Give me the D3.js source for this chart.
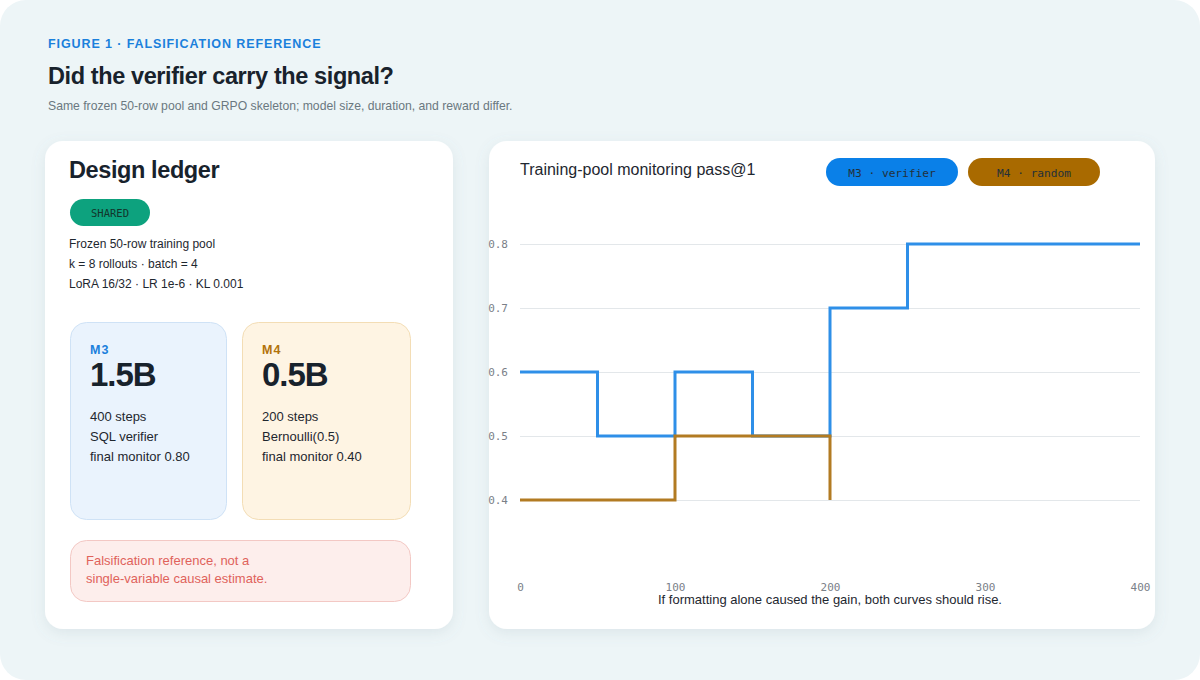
<!DOCTYPE html>
<html>
<head>
<meta charset="utf-8">
<script src="https://cdn.jsdelivr.net/npm/d3@7/dist/d3.min.js"></script>
<style>
  html, body { margin: 0; padding: 0; background: #ffffff; }
  svg { display: block; }
  .sans { font-family: "Liberation Sans", Arial, Helvetica, sans-serif; }
  .mono { font-family: "DejaVu Sans Mono", "Liberation Mono", monospace; }
</style>
</head>
<body>
<div id="chart"></div>
<script>
// eval checkpoints (training step) and monitor pass@1
const m3Steps = [0, 50, 100, 150, 200, 250, 300, 350, 400];
const m3Pass = [0.6, 0.5, 0.6, 0.5, 0.7, 0.8, 0.8, 0.8, 0.8];
const m4Steps = [0, 50, 100, 150, 200];
const m4Pass = [0.4, 0.4, 0.5, 0.5, 0.4];

const xTicks = [0, 100, 200, 300, 400];
const yTicks = [0.4, 0.5, 0.6, 0.7, 0.8];

const seriesNames = ["M3 · verifier", "M4 · random"];
const seriesColors = ["#2e8fe8", "#b27b22"];
const pillColors = ["#0a80e8", "#a96a00"];

const sharedLines = [
  "Frozen 50-row training pool",
  "k = 8 rollouts · batch = 4",
  "LoRA 16/32 · LR 1e-6 · KL 0.001"
];
const models = [
  { tag: "M3", size: "1.5B", lines: ["400 steps", "SQL verifier", "final monitor 0.80"] },
  { tag: "M4", size: "0.5B", lines: ["200 steps", "Bernoulli(0.5)", "final monitor 0.40"] }
];

const W = 1200, H = 680;
const svg = d3.select("#chart").append("svg")
  .attr("width", W)
  .attr("height", H);

const defs = svg.append("defs");
const shadow = defs.append("filter").attr("id", "shadow")
  .attr("x", "-10%").attr("y", "-10%").attr("width", "120%").attr("height", "125%");
shadow.append("feDropShadow")
  .attr("dx", 0).attr("dy", 4).attr("stdDeviation", 7)
  .attr("flood-color", "#6f8c96").attr("flood-opacity", 0.14);

// page background
svg.append("rect")
  .attr("width", W).attr("height", H)
  .attr("rx", 26)
  .attr("fill", "#edf5f7");

// header
svg.append("text").attr("class", "sans")
  .attr("x", 48).attr("y", 48)
  .attr("font-size", 12.5).attr("font-weight", 700)
  .attr("letter-spacing", 0.9)
  .attr("fill", "#1a80dc")
  .text("FIGURE 1 · FALSIFICATION REFERENCE");

svg.append("text").attr("class", "sans")
  .attr("x", 48).attr("y", 84)
  .attr("font-size", 23.5).attr("font-weight", 700)
  .attr("letter-spacing", -0.4)
  .attr("fill", "#18222c")
  .text("Did the verifier carry the signal?");

svg.append("text").attr("class", "sans")
  .attr("x", 48).attr("y", 110)
  .attr("font-size", 12.2)
  .attr("fill", "#6a7880")
  .text("Same frozen 50-row pool and GRPO skeleton; model size, duration, and reward differ.");

// ---------- left card: design ledger ----------
const left = svg.append("g");
left.append("rect")
  .attr("x", 45).attr("y", 141).attr("width", 408).attr("height", 488)
  .attr("rx", 18).attr("fill", "#ffffff")
  .attr("filter", "url(#shadow)");

left.append("text").attr("class", "sans")
  .attr("x", 69).attr("y", 178)
  .attr("font-size", 23.5).attr("font-weight", 700)
  .attr("letter-spacing", -0.4)
  .attr("fill", "#18222c")
  .text("Design ledger");

left.append("rect")
  .attr("x", 70).attr("y", 199).attr("width", 80).attr("height", 27)
  .attr("rx", 13.5).attr("fill", "#0da27e");
left.append("text").attr("class", "mono")
  .attr("x", 110).attr("y", 216.5)
  .attr("text-anchor", "middle")
  .attr("font-size", 10.5)
  .attr("fill", "#12352b")
  .text("SHARED");

left.selectAll("text.shared")
  .data(sharedLines)
  .join("text")
  .attr("class", "sans shared")
  .attr("x", 69)
  .attr("y", (d, i) => 248 + i * 20)
  .attr("font-size", 12)
  .attr("fill", "#1e272f")
  .text(d => d);

const boxX = [70, 242], boxW = [156, 168];
const boxFill = ["#eaf3fd", "#fef4e3"], boxStroke = ["#cfe2f6", "#f3ddb5"];
const tagColor = ["#1a80dc", "#b2720a"];

models.forEach((m, i) => {
  const g = left.append("g");
  g.append("rect")
    .attr("x", boxX[i] + 0.5).attr("y", 322.5)
    .attr("width", boxW[i]).attr("height", 197)
    .attr("rx", 16)
    .attr("fill", boxFill[i]).attr("stroke", boxStroke[i]);
  g.append("text").attr("class", "sans")
    .attr("x", boxX[i] + 20).attr("y", 354)
    .attr("font-size", 12.5).attr("font-weight", 700)
    .attr("letter-spacing", 1)
    .attr("fill", tagColor[i])
    .text(m.tag);
  g.append("text").attr("class", "sans")
    .attr("x", boxX[i] + 20).attr("y", 386)
    .attr("font-size", 33).attr("font-weight", 700)
    .attr("letter-spacing", -1)
    .attr("fill", "#18222c")
    .text(m.size);
  g.selectAll("text.detail")
    .data(m.lines)
    .join("text")
    .attr("class", "sans detail")
    .attr("x", boxX[i] + 20)
    .attr("y", (d, j) => 421 + j * 20)
    .attr("font-size", 13)
    .attr("fill", "#1e272f")
    .text(d => d);
});

left.append("rect")
  .attr("x", 70.5).attr("y", 540.5).attr("width", 340).attr("height", 61)
  .attr("rx", 16)
  .attr("fill", "#fdeeec").attr("stroke", "#f3c8c4");
left.selectAll("text.warn")
  .data(["Falsification reference, not a", "single-variable causal estimate."])
  .join("text")
  .attr("class", "sans warn")
  .attr("x", 86)
  .attr("y", (d, i) => 565 + i * 18)
  .attr("font-size", 13)
  .attr("fill", "#e0625b")
  .text(d => d);

// ---------- right card: chart ----------
const right = svg.append("g");
right.append("rect")
  .attr("x", 489).attr("y", 141).attr("width", 666).attr("height", 488)
  .attr("rx", 18).attr("fill", "#ffffff")
  .attr("filter", "url(#shadow)");

right.append("text").attr("class", "sans")
  .attr("x", 520).attr("y", 175)
  .attr("font-size", 16)
  .attr("fill", "#1e272f")
  .text("Training-pool monitoring pass@1");

// legend pills
const pillX = [826, 968];
seriesNames.forEach((name, i) => {
  right.append("rect")
    .attr("x", pillX[i]).attr("y", 158).attr("width", 132).attr("height", 28)
    .attr("rx", 14).attr("fill", pillColors[i]);
  right.append("text").attr("class", "mono")
    .attr("x", pillX[i] + 66).attr("y", 176.5)
    .attr("text-anchor", "middle")
    .attr("font-size", 11.2)
    .attr("fill", "#23303a")
    .text(name);
});

const x = d3.scaleLinear().domain([0, 400]).range([520, 1140]);
const y = d3.scaleLinear().domain([0.3, 0.9]).range([564, 180]);

// tick labels overhang the card edge a little, like the reference
defs.append("clipPath").attr("id", "cardClip")
  .append("rect")
  .attr("x", 488).attr("y", 141).attr("width", 667).attr("height", 488).attr("rx", 18);

const plot = right.append("g").attr("clip-path", "url(#cardClip)");

const yAxis = plot.append("g")
  .attr("transform", `translate(${x.range()[0]},0)`)
  .call(d3.axisLeft(y).tickValues(yTicks).tickFormat(d3.format(".1f"))
    .tickSize(-(x.range()[1] - x.range()[0])).tickPadding(12));
yAxis.select(".domain").remove();
yAxis.selectAll(".tick line").attr("stroke", "#e3e7ea").attr("stroke-width", 1);
yAxis.selectAll(".tick text")
  .attr("class", "mono")
  .attr("font-size", 11)
  .attr("fill", "#7a8088");

const xAxis = plot.append("g")
  .attr("transform", `translate(0,${y(0.3)})`)
  .call(d3.axisBottom(x).tickValues(xTicks).tickSize(0).tickPadding(19));
xAxis.select(".domain").remove();
xAxis.selectAll(".tick text")
  .attr("class", "mono")
  .attr("font-size", 11)
  .attr("fill", "#7a8088");

const line = d3.line()
  .x(d => x(d[0]))
  .y(d => y(d[1]))
  .curve(d3.curveStepAfter);

const series = [
  d3.zip(m3Steps, m3Pass),
  d3.zip(m4Steps, m4Pass)
];

plot.selectAll("path.series")
  .data(series)
  .join("path")
  .attr("class", "series")
  .attr("fill", "none")
  .attr("stroke", (d, i) => seriesColors[i])
  .attr("stroke-width", 3)
  .attr("stroke-linejoin", "miter")
  .attr("d", line);

right.append("text").attr("class", "sans")
  .attr("x", 830).attr("y", 604)
  .attr("text-anchor", "middle")
  .attr("font-size", 13)
  .attr("fill", "#1e272f")
  .text("If formatting alone caused the gain, both curves should rise.");
</script>
</body>
</html>
